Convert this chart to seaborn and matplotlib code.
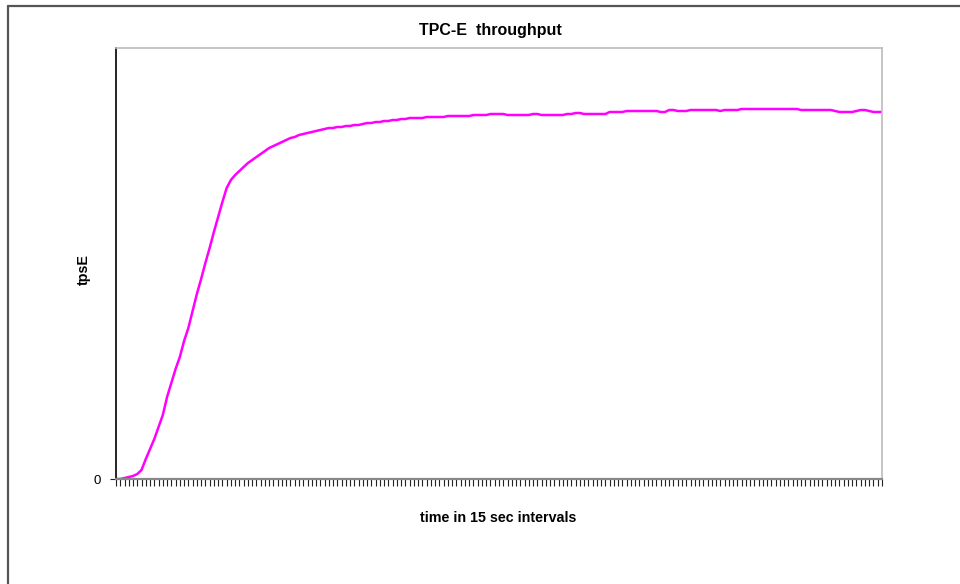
import numpy as np
import pandas as pd
import matplotlib
matplotlib.use("Agg")
import matplotlib.pyplot as plt
import seaborn as sns
from matplotlib.lines import Line2D

sns.set_style("white")
plt.rcParams['font.family'] = ['Liberation Sans', 'DejaVu Sans']
plt.rcParams['text.color'] = 'black'
plt.rcParams['xtick.color'] = 'black'
plt.rcParams['ytick.color'] = 'black'

# tpsE per 15 sec interval (arbitrary units)
tpse = [
    0, 0, 1, 2, 3, 5, 9, 20, 30, 40,
    52, 64, 82, 96, 110, 122, 138, 151, 168, 185,
    200, 216, 231, 247, 262, 277, 291, 299, 304, 308,
    312, 316, 319, 322, 325, 328, 331, 333, 335, 337,
    339, 341, 342, 344, 345, 346, 347, 348, 349, 350,
    351, 351, 352, 352, 353, 353, 354, 354, 355, 356,
    356, 357, 357, 358, 358, 359, 359, 360, 360, 361,
    361, 361, 361, 362, 362, 362, 362, 362, 363, 363,
    363, 363, 363, 363, 364, 364, 364, 364, 365, 365,
    365, 365, 364, 364, 364, 364, 364, 364, 365, 365,
    364, 364, 364, 364, 364, 364, 365, 365, 366, 366,
    365, 365, 365, 365, 365, 365, 367, 367, 367, 367,
    368, 368, 368, 368, 368, 368, 368, 368, 367, 367,
    369, 369, 368, 368, 368, 369, 369, 369, 369, 369,
    369, 369, 368, 369, 369, 369, 369, 370, 370, 370,
    370, 370, 370, 370, 370, 370, 370, 370, 370, 370,
    370, 369, 369, 369, 369, 369, 369, 369, 369, 368,
    367, 367, 367, 367, 368, 369, 369, 368, 367, 367,
    367,
]
interval = list(range(len(tpse)))
y_top = 431

df = pd.DataFrame({"interval": interval, "tpsE": tpse})

fig = plt.figure(figsize=(9.6, 5.84), dpi=100)
ax = fig.add_axes([116 / 960, 105 / 584, 766 / 960, 431 / 584])

sns.lineplot(data=df, x="interval", y="tpsE", color="#FF00FF", linewidth=1.8, ax=ax)

ax.set_xlim(0, len(tpse) - 1)
ax.set_ylim(0, y_top)
ax.set_xticks(interval)
ax.set_xticklabels([])
ax.set_yticks([0])
ax.set_yticklabels(["0"])
ax.tick_params(axis="x", bottom=True, direction="out", length=5, width=0.8,
               color="#222222", pad=2)
ax.tick_params(axis="y", left=True, direction="out", length=4, width=0.8,
               color="#222222", labelsize=9.5, pad=7)
ax.set_xlabel("")
ax.set_ylabel("")

for side, col, lw in [("left", "#000000", 1.2), ("bottom", "#888888", 1.6),
                      ("top", "#bbbbbb", 1.2), ("right", "#bbbbbb", 1.2)]:
    ax.spines[side].set_visible(True)
    ax.spines[side].set_color(col)
    ax.spines[side].set_linewidth(lw)

fig.text(490 / 960, 1 - 31 / 584, "TPC-E  throughput", ha="center", va="center",
         fontsize=11.5, fontweight="bold")
fig.text(84 / 960, 1 - 270 / 584, "tpsE", ha="center", va="center", rotation=90,
         fontsize=10.3, fontweight="bold")
fig.text(498 / 960, 1 - 518 / 584, "time in 15 sec intervals", ha="center", va="center",
         fontsize=10.3, fontweight="bold")

# outer chart border (left and top edges visible)
fig.add_artist(Line2D([7.5 / 960, 7.5 / 960], [0, 1 - 5.5 / 584], transform=fig.transFigure,
                      color="#555555", linewidth=1.6))
fig.add_artist(Line2D([7.5 / 960, 1], [1 - 5.5 / 584, 1 - 5.5 / 584], transform=fig.transFigure,
                      color="#555555", linewidth=1.6))

fig.savefig("out.png", dpi=100)
